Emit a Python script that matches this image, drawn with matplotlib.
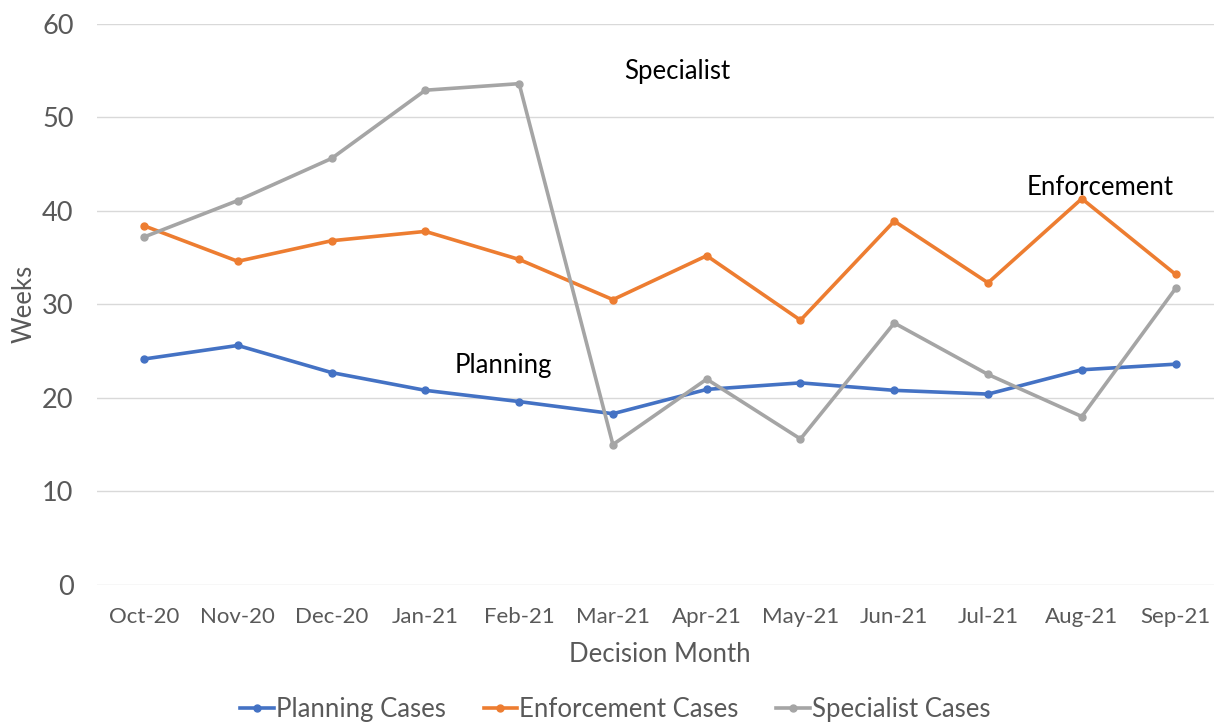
import matplotlib.pyplot as plt

months = ['Oct-20', 'Nov-20', 'Dec-20', 'Jan-21', 'Feb-21', 'Mar-21',
          'Apr-21', 'May-21', 'Jun-21', 'Jul-21', 'Aug-21', 'Sep-21']
planning = [24.15, 25.6, 22.7, 20.8, 19.6, 18.3, 20.9, 21.6, 20.8, 20.4, 23.0, 23.6]
enforcement = [38.4, 34.6, 36.8, 37.8, 34.8, 30.5, 35.2, 28.3, 38.9, 32.3, 41.3, 33.2]
specialist = [37.2, 41.1, 45.6, 52.9, 53.6, 15.0, 22.0, 15.6, 28.0, 22.5, 18.0, 31.7]

plt.rcParams['font.family'] = ['Lato', 'DejaVu Sans']

fig = plt.figure(figsize=(12.14, 7.22), dpi=100)
ax = fig.add_axes([0.08, 0.19, 0.927, 0.777])

x = list(range(len(months)))
ax.plot(x, planning, color='#4472C4', lw=2.6, marker='o', ms=5, label='Planning Cases')
ax.plot(x, enforcement, color='#ED7D31', lw=2.6, marker='o', ms=5, label='Enforcement Cases')
ax.plot(x, specialist, color='#A5A5A5', lw=2.6, marker='o', ms=5, label='Specialist Cases')

ax.text(5.69, 54.9, 'Specialist', fontsize=18.5, ha='center', va='center', color='black')
ax.text(10.2, 42.5, 'Enforcement', fontsize=18.5, ha='center', va='center', color='black')
ax.text(3.83, 23.5, 'Planning', fontsize=18.5, ha='center', va='center', color='black')

ax.set_xlim(-0.5, 11.5)
ax.set_ylim(0, 60)
ax.set_yticks(range(0, 61, 10))
ax.set_xticks(x)
ax.set_xticklabels(months)
ax.tick_params(axis='y', labelsize=19.5, colors='#595959', length=0, pad=17)
ax.tick_params(axis='x', labelsize=16, colors='#595959', length=0, pad=16)
ax.grid(axis='y', color='#D9D9D9', lw=1)
ax.set_axisbelow(True)
for s in ax.spines.values():
    s.set_visible(False)

ax.set_ylabel('Weeks', fontsize=18.5, color='#595959', labelpad=4)
ax.set_xlabel('Decision Month', fontsize=18.5, color='#595959', labelpad=11)

fig.legend(loc='center', bbox_to_anchor=(0.507, 0.017), ncol=3, frameon=False,
           fontsize=18.5, labelcolor='#595959', handlelength=1.3, handletextpad=0.1,
           columnspacing=1.45)

fig.savefig('out.png', dpi=100)
